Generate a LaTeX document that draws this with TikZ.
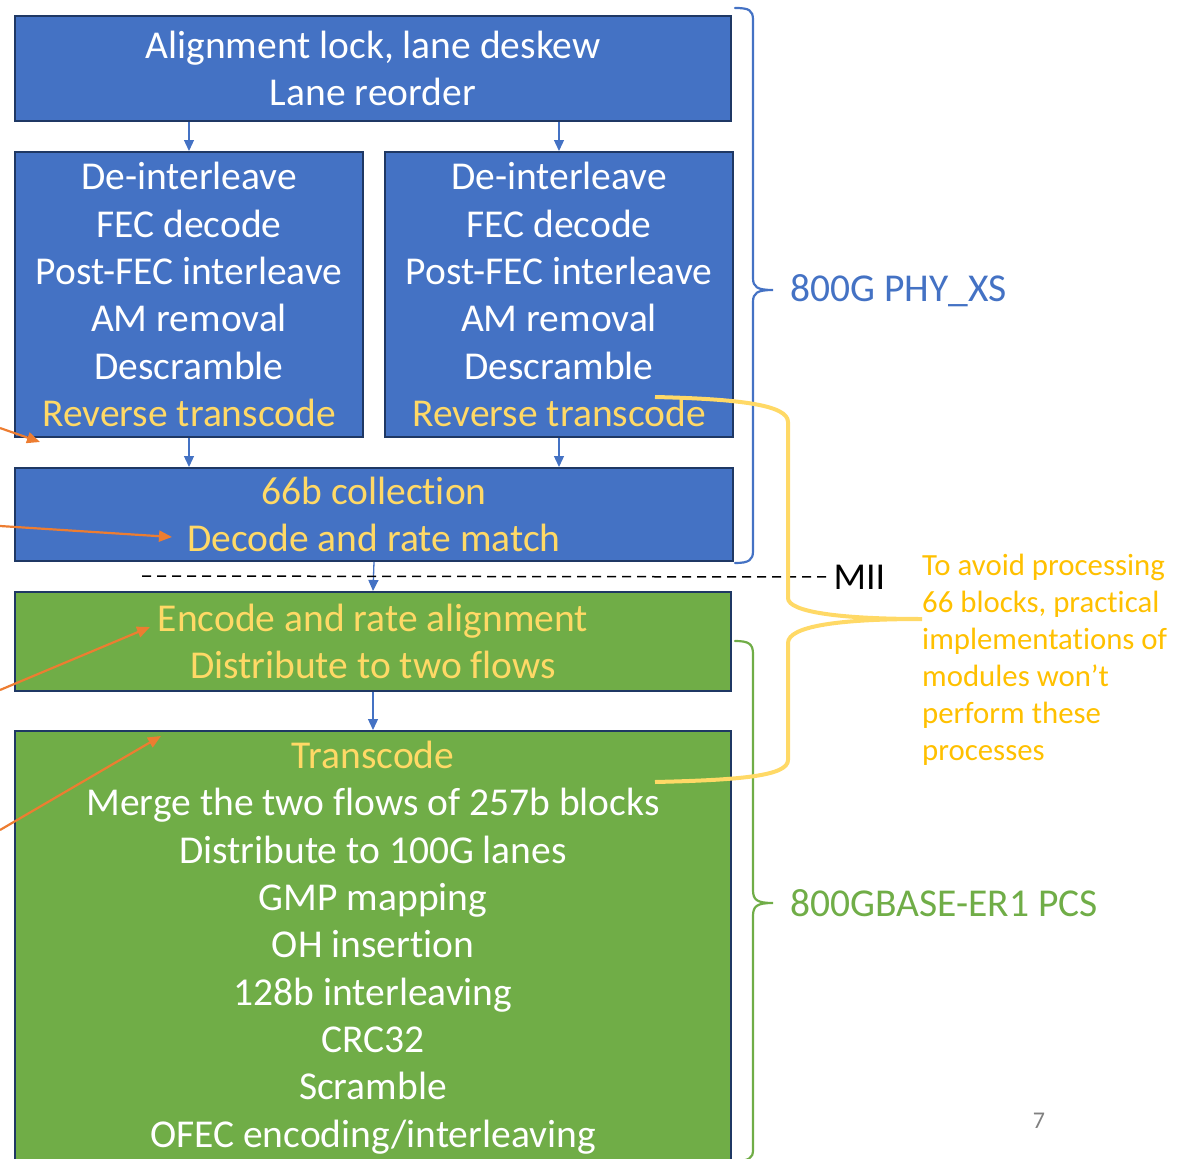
\documentclass[tikz,border=0pt]{standalone}
\usepackage{fontspec}
\setmainfont{Carlito}[Ligatures=NoCommon]
\usetikzlibrary{positioning,arrows.meta}

\definecolor{phyblue}{HTML}{4472C4}
\definecolor{pcsgreen}{HTML}{70AD47}
\definecolor{edgenavy}{HTML}{1F3864}
\definecolor{txtyellow}{HTML}{FFD966}
\definecolor{notegold}{HTML}{FFC000}
\definecolor{hintorange}{HTML}{ED7D31}

\begin{document}
\begin{tikzpicture}[
    x=1pt, y=-1pt,
    block/.style={rectangle, draw=edgenavy, line width=2pt, text=white, align=center, inner sep=0pt, font=\fontsize{39.5}{47.3}\selectfont},
    blueblock/.style={block, fill=phyblue},
    greenblock/.style={block, fill=pcsgreen},
    flow/.style={-{Triangle[length=11pt, width=10pt]}, draw=phyblue, line width=1.3pt},
    hint/.style={-{Triangle[length=13pt, width=11pt]}, draw=hintorange, line width=2.2pt},
    brace/.style={line width=2.2pt, line cap=round},
    label/.style={anchor=west, font=\fontsize{39.5}{44}\selectfont}
]

\clip (0,0) rectangle (1179,1159);

% PHY_XS blocks
\node[blueblock, minimum width=716pt, minimum height=105pt] (align) at (373,68.5)
    {Alignment lock, lane deskew\\Lane reorder};
\node[blueblock, minimum width=348pt, minimum height=285pt] (deintL) at (189,294.5)
    {De-interleave\\FEC decode\\Post-FEC interleave\\AM removal\\Descramble\\{\color{txtyellow}Reverse transcode}};
\node[blueblock, minimum width=348pt, minimum height=285pt] (deintR) at (559,294.5)
    {De-interleave\\FEC decode\\Post-FEC interleave\\AM removal\\Descramble\\{\color{txtyellow}Reverse transcode}};
\node[blueblock, minimum width=718pt, minimum height=93pt] (collect) at (374,514.5)
    {{\color{txtyellow}66b collection}\\{\color{txtyellow}Decode and rate match}};

% PCS blocks
\node[greenblock, minimum width=716pt, minimum height=99pt] (encode) at (373,641.5)
    {{\color{txtyellow}Encode and rate alignment}\\{\color{txtyellow}Distribute to two flows}};
\node[greenblock, minimum width=716pt, minimum height=433pt] (transcode) at (373,947.5)
    {{\color{txtyellow}Transcode}\\Merge the two flows of 257b blocks\\Distribute to 100G lanes\\GMP mapping\\OH insertion\\128b interleaving\\CRC32\\Scramble\\OFEC encoding/interleaving};

% flow arrows
\draw[flow] (align.south -| deintL.north) -- (deintL.north);
\draw[flow] (align.south -| deintR.north) -- (deintR.north);
\draw[flow] (deintL.south) -- (collect.north -| deintL.south);
\draw[flow] (deintR.south) -- (collect.north -| deintR.south);
\draw[flow] (collect.south) -- (encode.north);
\draw[flow] (encode.south) -- (transcode.north);

% MII boundary
\node[anchor=west, font=\fontsize{38}{44}\selectfont] (mii) at (830,577) {MII};
\coordinate (miistart) at (142,576);
\draw[dashed, line width=1.5pt, dash pattern=on 9pt off 6pt] (miistart) -- (mii.west);

% braces
\draw[brace, phyblue] (735,8) .. controls (749,8) and (753,10) .. (753,20) -- (753,278)
    .. controls (753,287) and (757,290) .. (773,290)
    .. controls (757,290) and (753,293) .. (753,302) -- (753,551)
    .. controls (753,560) and (749,563) .. (735,563);
\node[label, text=phyblue] (phyxs) at (787,291) {800G PHY\_XS};

\draw[brace, pcsgreen] (735,641) .. controls (749,641) and (753,644) .. (753,654) -- (753,890)
    .. controls (753,900) and (757,903) .. (773,903)
    .. controls (757,903) and (753,906) .. (753,916) -- (753,1150)
    .. controls (753,1158) and (749,1161) .. (735,1161);
\node[label, text=pcsgreen] (pcs) at (787,903) {800GBASE-ER1 PCS};

\draw[line width=4pt, txtyellow] (655,397) .. controls (740,399) and (788,405) .. (788,422) -- (788,598)
    .. controls (788,612) and (840,619) .. (922,619)
    .. controls (840,619) and (788,626) .. (788,643) -- (788,760)
    .. controls (788,776) and (740,780) .. (655,782);

% note
\node[anchor=north west, align=left, text=notegold, inner sep=0pt, font=\fontsize{30.8}{36.9}\selectfont] (note) at (922,554)
    {To avoid processing\\66 blocks, practical\\implementations of\\modules won’t\\perform these\\processes};

% orange hint arrows from the left margin
\coordinate (hintA) at (0,428);   \coordinate (hintAend) at (40,442);
\coordinate (hintB) at (0,526);   \coordinate (hintBend) at (172,537);
\coordinate (hintC) at (0,690);   \coordinate (hintCend) at (150,627);
\coordinate (hintD) at (0,830);   \coordinate (hintDend) at (161,736);
\draw[hint] (hintA) -- (hintAend);
\draw[hint] (hintB) -- (hintBend);
\draw[hint] (hintC) -- (hintCend);
\draw[hint] (hintD) -- (hintDend);

% page number
\node[text=gray, font=\fontsize{24}{28}\selectfont] (pagenum) at (1039,1121) {7};

\end{tikzpicture}
\end{document}
